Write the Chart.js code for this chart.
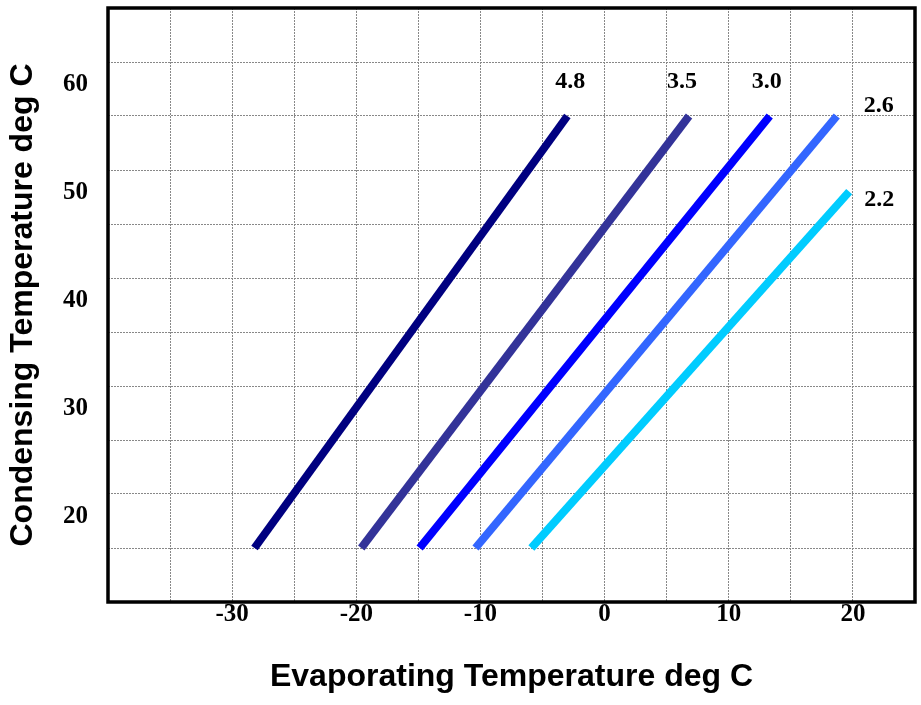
<!DOCTYPE html>
<html>
<head>
<meta charset="utf-8">
<script src="https://cdn.jsdelivr.net/npm/chart.js@4.4.0/dist/chart.umd.min.js"></script>
<style>
  html, body { margin: 0; padding: 0; background: #fff; }
</style>
</head>
<body>
<canvas id="chart" width="921" height="705"></canvas>
<script>
// compression ratio lines
var seriesNames = ['4.8', '3.5', '3.0', '2.6', '2.2'];
var evapStart = [-28.2, -19.6, -14.9, -10.4, -5.9];
var evapEnd = [-3.0, 6.8, 13.3, 18.7, 19.7];
var condStart = [15, 15, 15, 15, 15];
var condEnd = [55, 55, 55, 55, 48];

var xTickLabels = [-30, -20, -10, 0, 10, 20];
var yTickLabels = [20, 30, 40, 50, 60];

var colors = ['#000080', '#333399', '#0000ff', '#3366ff', '#00ccff'];
var labelShift = [[3, -34], [-7, -34], [-3, -34], [42, -10], [30, 8]];

var serif = '"Liberation Serif", "Times New Roman", serif';
var sans = '"Liberation Sans", Arial, sans-serif';

var datasets = [];
seriesNames.forEach(function(name, i) {
  datasets.push({
    label: name,
    data: [
      { x: evapStart[i], y: condStart[i] },
      { x: evapEnd[i], y: condEnd[i] }
    ],
    showLine: true,
    borderColor: colors[i],
    backgroundColor: colors[i],
    borderWidth: 8,
    borderCapStyle: 'butt',
    pointRadius: 0,
    labelDx: labelShift[i][0],
    labelDy: labelShift[i][1]
  });
});

var lineLabels = {
  id: 'lineLabels',
  afterDatasetsDraw: function(chart) {
    var ctx = chart.ctx;
    ctx.save();
    ctx.font = 'bold 24px ' + serif;
    ctx.fillStyle = '#000';
    ctx.textAlign = 'center';
    ctx.textBaseline = 'middle';
    chart.data.datasets.forEach(function(ds, i) {
      var pts = chart.getDatasetMeta(i).data;
      var end = pts[pts.length - 1];
      ctx.fillText(ds.label, end.x + ds.labelDx, end.y + ds.labelDy);
    });
    ctx.restore();
  }
};

var frame = {
  id: 'frame',
  afterDraw: function(chart) {
    var a = chart.chartArea;
    var ctx = chart.ctx;
    ctx.save();
    ctx.strokeStyle = '#000';
    ctx.lineWidth = 3.5;
    ctx.strokeRect(a.left, a.top, a.right - a.left, a.bottom - a.top);
    ctx.restore();
  }
};

new Chart(document.getElementById('chart').getContext('2d'), {
  type: 'scatter',
  data: { datasets: datasets },
  plugins: [lineLabels, frame],
  options: {
    responsive: false,
    animation: false,
    devicePixelRatio: 1,
    layout: { padding: { top: 8, right: 6, left: 0, bottom: 0 } },
    plugins: {
      legend: { display: false },
      tooltip: { enabled: false }
    },
    scales: {
      x: {
        type: 'linear',
        min: -40,
        max: 25,
        afterFit: function(scale) {
          scale.height = 103;
          scale.paddingLeft = 0;
          scale.paddingRight = 0;
        },
        grid: { color: '#888', lineWidth: 1, drawTicks: false },
        border: { display: false, dash: [2, 1] },
        ticks: {
          stepSize: 5,
          autoSkip: false,
          maxRotation: 0,
          padding: -2,
          color: '#000',
          font: { family: serif, size: 25, weight: 'bold' },
          callback: function(v) { return xTickLabels.indexOf(v) >= 0 ? String(v) : ''; }
        },
        title: {
          display: true,
          text: 'Evaporating Temperature deg C',
          color: '#000',
          font: { family: sans, size: 32, weight: 'bold' },
          padding: { top: 0, bottom: 9 }
        }
      },
      y: {
        type: 'linear',
        min: 10,
        max: 65,
        afterFit: function(scale) {
          scale.width = 108;
          scale.paddingTop = 0;
          scale.paddingBottom = 0;
        },
        grid: { color: '#888', lineWidth: 1, drawTicks: false },
        border: { display: false, dash: [2, 1] },
        ticks: {
          stepSize: 5,
          autoSkip: false,
          padding: 20,
          labelOffset: 23,
          color: '#000',
          font: { family: serif, size: 25, weight: 'bold' },
          callback: function(v) { return yTickLabels.indexOf(v) >= 0 ? String(v) : ''; }
        },
        title: {
          display: true,
          text: 'Condensing Temperature deg C',
          color: '#000',
          font: { family: sans, size: 32, weight: 'bold' },
          padding: { top: 4, bottom: 0 }
        }
      }
    }
  }
});
</script>
</body>
</html>
